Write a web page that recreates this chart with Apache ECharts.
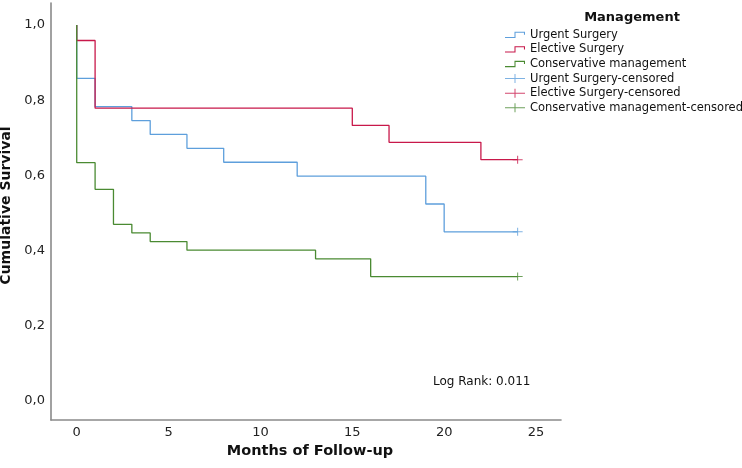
<!DOCTYPE html>
<html>
<head>
<meta charset="utf-8">
<script src="https://cdn.jsdelivr.net/npm/echarts@6/dist/echarts.min.js"></script>
<style>
html,body{margin:0;padding:0;background:#fff;}
#main{width:742px;height:468px;}
</style>
</head>
<body>
<div id="main"></div>
<script>
// ---- data ----
var urgentMonths = [0, 0, 1, 3, 4, 6, 8, 12, 19, 20, 24];
var urgentSurvival = [1, 0.858, 0.783, 0.746, 0.709, 0.672, 0.635, 0.598, 0.524, 0.450, 0.450];
var electiveMonths = [0, 0, 1, 15, 17, 22, 24];
var electiveSurvival = [1, 0.959, 0.779, 0.733, 0.688, 0.642, 0.642];
var conservativeMonths = [0, 0, 1, 2, 3, 4, 6, 13, 16, 24];
var conservativeSurvival = [1, 0.634, 0.563, 0.470, 0.447, 0.424, 0.401, 0.378, 0.331, 0.331];
var censoredMonths = [24, 24, 24];
var censoredSurvival = [0.450, 0.642, 0.331];
var groupNames = ['Urgent Surgery', 'Elective Surgery', 'Conservative management'];
var censoredNames = ['Urgent Surgery-censored', 'Elective Surgery-censored', 'Conservative management-censored'];
var yTicks = [0, 0.2, 0.4, 0.6, 0.8, 1.0];
var xTicks = [0, 5, 10, 15, 20, 25];
var logRankText = 'Log Rank: 0.011';

var colors = ['#5e9fdc', '#c8184a', '#4a8a32'];
var FONT = 'DejaVu Sans';

function zip(a, b) { return a.map(function (v, i) { return [v, b[i]]; }); }
var groupData = [zip(urgentMonths, urgentSurvival), zip(electiveMonths, electiveSurvival), zip(conservativeMonths, conservativeSurvival)];

var stepIcon = 'path://M0,7 L9,7 L9,2 L19,2 L19,5 L18,5 L18,3 L10,3 L10,8 L0,8 Z';
var crossIcon = 'path://M0,4 L9.5,4 L9.5,0 L10.5,0 L10.5,4 L20,4 L20,5 L10.5,5 L10.5,9 L9.5,9 L9.5,5 L0,5 Z';
var crossSymbol = 'path://M0,3.5 L4.5,3.5 L4.5,0 L5.5,0 L5.5,3.5 L10,3.5 L10,4.5 L5.5,4.5 L5.5,8 L4.5,8 L4.5,4.5 L0,4.5 Z';

var series = [];
groupNames.forEach(function (n, i) {
  series.push({
    name: n, type: 'line', step: 'end', data: groupData[i],
    showSymbol: false, symbol: 'none', silent: true, animation: false,
    lineStyle: { color: colors[i], width: 1.3 }, itemStyle: { color: colors[i] }
  });
});
censoredNames.forEach(function (n, i) {
  series.push({
    name: n, type: 'scatter', data: [[censoredMonths[i], censoredSurvival[i]]],
    symbol: crossSymbol, symbolSize: [10, 8], silent: true, animation: false,
    itemStyle: { color: colors[i] }
  });
});

var legendData = groupNames.map(function (n, i) { return { name: n, icon: stepIcon, itemStyle: { color: colors[i] } }; })
  .concat(censoredNames.map(function (n, i) { return { name: n, icon: crossIcon, itemStyle: { color: colors[i] } }; }));

var chart = echarts.init(document.getElementById('main'));
chart.setOption({
  animation: false,
  backgroundColor: '#fff',
  title: {
    text: 'Management', left: 627, top: 6, textAlign: 'center',
    textStyle: { fontFamily: FONT, fontSize: 13, fontWeight: 'bold', color: '#111' }
  },
  legend: {
    orient: 'vertical', left: 505, top: 28, padding: 0,
    itemWidth: 20, itemHeight: 9, itemGap: 1, itemTextGap: 5,
    selectedMode: false,
    textStyle: { fontFamily: FONT, fontSize: 11.5, color: '#111', lineHeight: 13.6 },
    data: legendData
  },
  grid: { left: 51, right: 181, top: 3, bottom: 48, containLabel: false, outerBoundsMode: 'none' },
  xAxis: {
    type: 'value', min: -1.4, max: 26.36,
    name: 'Months of Follow-up', nameLocation: 'middle', nameGap: 21,
    nameTextStyle: { fontFamily: FONT, fontSize: 14.5, fontWeight: 'bold', color: '#111', padding: [0, 0, 0, 8] },
    axisLine: { show: true, onZero: false, lineStyle: { color: '#8a8a8a', width: 1.6 } },
    axisTick: { show: false },
    splitLine: { show: false },
    axisLabel: { customValues: xTicks, fontFamily: FONT, fontSize: 13, color: '#222', margin: 6 }
  },
  yAxis: {
    type: 'value', min: -0.0507, max: 1.0587,
    name: 'Cumulative Survival', nameLocation: 'middle', nameGap: 23, nameRotate: 90,
    nameTextStyle: { fontFamily: FONT, fontSize: 14, fontWeight: 'bold', color: '#111', padding: [0, 0, 0, 12] },
    axisLine: { show: true, onZero: false, lineStyle: { color: '#8a8a8a', width: 1.6 } },
    axisTick: { show: false },
    splitLine: { show: false },
    axisLabel: {
      customValues: yTicks, fontFamily: FONT, fontSize: 13, color: '#222', margin: 6,
      formatter: function (v) { return v.toFixed(1).replace('.', ','); }
    }
  },
  graphic: [{
    type: 'text', left: 433, top: 376,
    style: { text: logRankText, fontFamily: FONT, fontSize: 12, fill: '#111' }
  }],
  series: series
});
</script>
</body>
</html>
